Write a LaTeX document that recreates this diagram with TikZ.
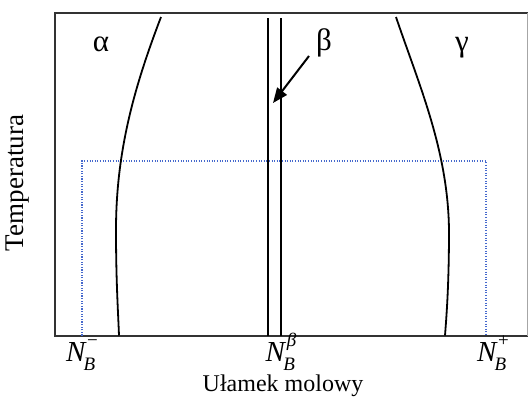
\documentclass[tikz,border=0pt]{standalone}
\usepackage{fontspec}
\setmainfont{Liberation Serif}
\usetikzlibrary{arrows.meta}
\definecolor{dotblue}{RGB}{70,105,205}
\tikzset{
  frame/.style={line width=2pt, draw=black!80},
  bound/.style={line width=1.8pt, black},
  betaline/.style={line width=1.7pt, black},
  dotline/.style={dotblue, line width=1.2pt, dash pattern=on 1.1pt off 1.5pt},
  phase/.style={font=\fontsize{31}{34}\selectfont, inner sep=0pt},
  comp/.style={font=\fontsize{29}{32}\selectfont, inner sep=0pt, anchor=base},
  axlabel/.style={font=\fontsize{24}{28}\selectfont, inner sep=0pt},
  ylabel/.style={font=\fontsize{27}{30}\selectfont, inner sep=0pt}
}
\newcommand{\compsub}[1]{\rlap{\raisebox{-0.32em}{\fontsize{19}{19}\selectfont\kern-3pt\textit{#1}}}}
\newcommand{\compsup}[1]{\raisebox{0.5em}{\fontsize{19}{19}\selectfont\kern0.5pt #1}}
\begin{document}
\begin{tikzpicture}[x=1pt,y=-1pt]
\useasboundingbox (0,0) rectangle (528,399);
% frame
\coordinate (tl) at (55,13);
\coordinate (bl) at (55,335.5);
\coordinate (tr) at (528,13);
\coordinate (br) at (528,335.5);
\draw[frame] (tr) -- (tl) -- (bl) -- (br);
\draw[black!35, line width=0.8pt] (527,13) -- (527,335.5);
% dotted rectangle
\coordinate (d1) at (82,335.5);
\coordinate (d2) at (82,161);
\coordinate (d3) at (486,161);
\coordinate (d4) at (486,335.5);
\draw[dotline] (d1) -- (d2) -- (d3) -- (d4);
% alpha boundary
\coordinate (a0) at (161,17);
\coordinate (a1) at (116,230);
\coordinate (a2) at (119,335.5);
\draw[bound] (a0) .. controls (135,85) and (116,150) .. (a1) .. controls (116,280) and (118,310) .. (a2);
% gamma boundary
\coordinate (g0) at (396,17);
\coordinate (g1) at (449,230);
\coordinate (g2) at (445,335.5);
\draw[bound] (g0) .. controls (419,85) and (448,150) .. (g1) .. controls (449,280) and (447,310) .. (g2);
% beta lines
\coordinate (b1t) at (268.3,18);
\coordinate (b1b) at (268.3,335.5);
\coordinate (b2t) at (281.3,18);
\coordinate (b2b) at (281.3,335.5);
\draw[betaline] (b1t) -- (b1b);
\draw[betaline] (b2t) -- (b2b);
% labels
\node[phase] (alpha) at (101,44) {α};
\node[phase] (beta) at (324,43) {β};
\node[phase] (gamma) at (462,48) {γ};
\coordinate (arrs) at (309,56);
\coordinate (arre) at (273,103);
\draw[line width=2pt, -{Triangle[length=15pt,width=12pt]}] (arrs) -- (arre);
\node[comp] (nm) at (82,361) {\textit{N}\compsub{B}\compsup{−}};
\node[comp] (nb) at (281,361) {\textit{N}\compsub{B}\compsup{\textit{β}}};
\node[comp] (np) at (493,361) {\textit{N}\compsub{B}\compsup{+}};
\node[axlabel] (xl) at (283,386) {Ułamek molowy};
\node[ylabel, rotate=90] (yl) at (18,183) {Temperatura};
\end{tikzpicture}
\end{document}
